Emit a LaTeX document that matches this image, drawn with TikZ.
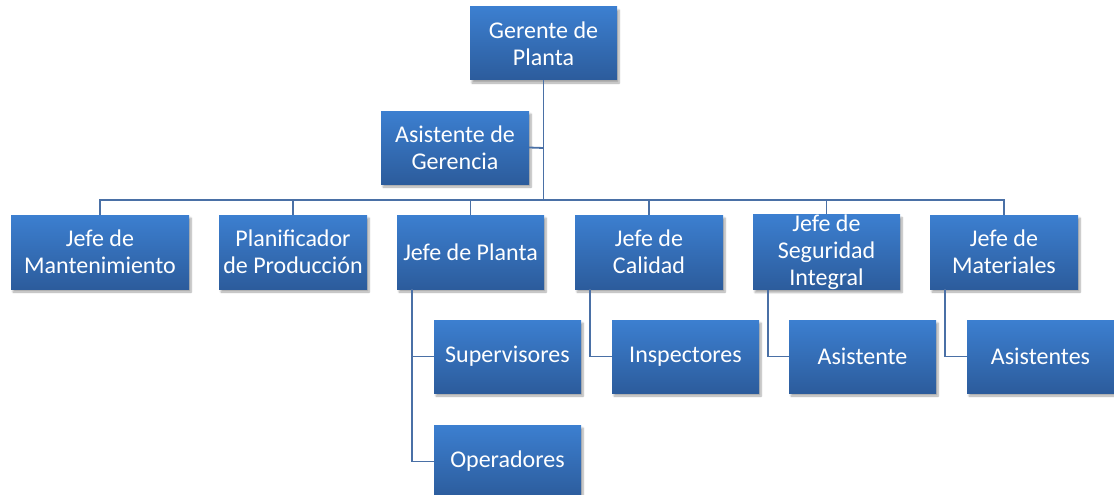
\documentclass[tikz,border=0pt]{standalone}
\usepackage{fontspec}
\setmainfont{Carlito}
\usetikzlibrary{shadows.blur,calc}
\definecolor{boxtop}{RGB}{60,127,208}
\definecolor{boxbot}{RGB}{44,92,156}
\definecolor{linec}{RGB}{74,112,166}
\tikzset{
  box/.style={rectangle, inner sep=0pt, minimum height=73pt, align=center,
    top color=boxtop, bottom color=boxbot, draw=none, text=white,
    font=\fontsize{24}{27}\selectfont,
    blur shadow={shadow xshift=2pt, shadow yshift=-3pt, shadow blur steps=6, shadow opacity=35}},
  conn/.style={draw=linec, line width=1.8pt},
}
\begin{document}
\begin{tikzpicture}[x=1pt,y=-1pt]
\useasboundingbox (0,0) rectangle (1114,495);
\begin{scope}
\clip (0,0) rectangle (1114,495);
\coordinate (bus) at (543.5,200);
\coordinate (asiJ) at (543.5,148);
\node[box, minimum width=147pt] (ger) at (543.5,43.5) {Gerente de\\Planta};
\node[box, minimum width=148pt] (asi) at (455,147.5) {Asistente de\\Gerencia};
\node[box, minimum width=178pt, minimum height=74pt] (man) at (100,252) {Jefe de\\Mantenimiento};
\node[box, minimum width=148pt, minimum height=74pt] (pla) at (293,252) {Planificador\\de Producción};
\node[box, minimum width=147pt, minimum height=74pt] (jpl) at (470.5,252) {Jefe de Planta};
\node[box, minimum width=148pt, minimum height=74pt] (cal) at (649,252) {Jefe de\\Calidad};
\node[box, minimum width=147pt, minimum height=74pt] (seg) at (826.5,252) {Jefe de\\Seguridad\\Integral};
\node[box, minimum width=148pt, minimum height=74pt] (mat) at (1004,252) {Jefe de\\Materiales};
\node[box, minimum width=147pt] (sup) at (507.5,356.5) {Supervisores};
\node[box, minimum width=147pt] (ope) at (507.5,461.5) {Operadores};
\node[box, minimum width=147pt] (ins) at (685.5,356.5) {Inspectores};
\node[box, minimum width=147pt] (asn) at (862.5,356.5) {Asistente};
\node[box, minimum width=147pt] (ast) at (1040.5,356.5) {Asistentes};
\draw[conn] (ger.south) -- (bus);
\draw[conn] (asiJ) -- (asi.east);
\draw[conn] (man.north) -- (man.north |- bus) -- (mat.north |- bus) -- (mat.north);
\draw[conn] (pla.north) -- (pla.north |- bus);
\draw[conn] (jpl.north) -- (jpl.north |- bus);
\draw[conn] (cal.north) -- (cal.north |- bus);
\draw[conn] (seg.north) -- (seg.north |- bus);
\draw[conn] ([xshift=15pt]jpl.south west) |- (sup.west);
\draw[conn] ([xshift=15pt]jpl.south west) |- (ope.west);
\draw[conn] ([xshift=15pt]cal.south west) |- (ins.west);
\draw[conn] ([xshift=15pt]seg.south west) |- (asn.west);
\draw[conn] ([xshift=15pt]mat.south west) |- (ast.west);
\end{scope}
\end{tikzpicture}
\end{document}
